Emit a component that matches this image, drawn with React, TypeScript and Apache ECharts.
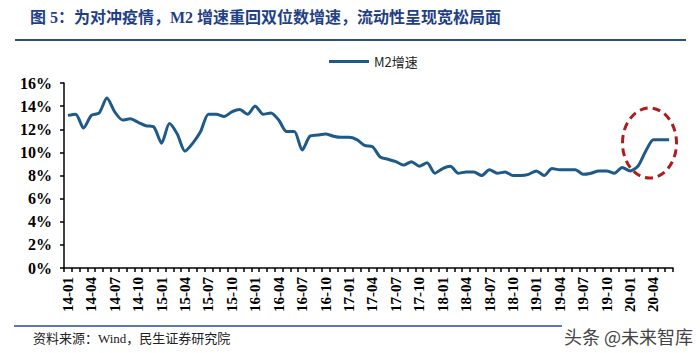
import React, { useEffect, useRef } from "react";
import * as echarts from "echarts";

const categories: string[] = [];
const years = ["14", "15", "16", "17", "18", "19", "20"];
for (const y of years) {
  for (let m = 1; m <= 12; m++) {
    if (y === "20" && m > 6) break;
    categories.push(`${y}-${m < 10 ? "0" + m : m}`);
  }
}

const m2_2014 = [13.2, 13.3, 12.1, 13.2, 13.4, 14.7, 13.5, 12.8, 12.9, 12.6, 12.3, 12.2];
const m2_2015 = [10.8, 12.5, 11.6, 10.1, 10.8, 11.8, 13.3, 13.3, 13.1, 13.5, 13.7, 13.3];
const m2_2016 = [14.0, 13.3, 13.4, 12.8, 11.8, 11.8, 10.2, 11.4, 11.5, 11.6, 11.4, 11.3];
const m2_2017 = [11.3, 11.1, 10.6, 10.5, 9.6, 9.4, 9.2, 8.9, 9.2, 8.8, 9.1, 8.2];
const m2_2018 = [8.6, 8.8, 8.2, 8.3, 8.3, 8.0, 8.5, 8.2, 8.3, 8.0, 8.0, 8.1];
const m2_2019 = [8.4, 8.0, 8.6, 8.5, 8.5, 8.5, 8.1, 8.2, 8.4, 8.4, 8.2, 8.7];
const m2_2020 = [8.4, 8.8, 10.1, 11.1, 11.1, 11.1];

const m2Growth = [...m2_2014, ...m2_2015, ...m2_2016, ...m2_2017, ...m2_2018, ...m2_2019, ...m2_2020];

const titleText = "图 5：为对冲疫情，M2 增速重回双位数增速，流动性呈现宽松局面";
const sourceText = "资料来源：Wind，民生证券研究院";
const seriesName = "M2增速";

export default function App() {
  const ref = useRef<HTMLDivElement>(null);
  useEffect(() => {
    if (!ref.current) return;
    const chart = echarts.init(ref.current, null, { renderer: "svg" });
    const serif = "Liberation Serif, Noto Sans CJK SC, serif";
    chart.setOption({
      animation: false,
      backgroundColor: "#ffffff",
      legend: {
        left: 324,
        top: 50,
        itemWidth: 40,
        itemHeight: 3,
        itemGap: 4,
        icon: "rect",
        data: [seriesName],
        textStyle: { fontSize: 13, color: "#222", fontFamily: "Noto Sans CJK SC, sans-serif" },
      },
      grid: { left: 64, right: 27, top: 83, bottom: 85, containLabel: false },
      xAxis: {
        type: "category",
        data: categories,
        boundaryGap: true,
        axisLine: { lineStyle: { color: "#000", width: 1.5 } },
        axisTick: { show: true, interval: 0, length: 4, lineStyle: { color: "#000", width: 1.5 } },
        axisLabel: {
          interval: 2,
          rotate: 90,
          margin: 9,
          fontSize: 15,
          fontWeight: "bold",
          color: "#000",
          fontFamily: serif,
        },
        splitLine: { show: false },
      },
      yAxis: {
        type: "value",
        min: 0,
        max: 16,
        interval: 2,
        axisLine: { show: true, lineStyle: { color: "#000", width: 1.5 } },
        axisTick: { show: true, length: 4, lineStyle: { color: "#000", width: 1.5 } },
        axisLabel: {
          formatter: "{value}%",
          fontSize: 16,
          fontWeight: "bold",
          color: "#000",
          margin: 12,
          fontFamily: serif,
        },
        splitLine: { show: false },
      },
      series: [
        {
          name: seriesName,
          type: "line",
          data: m2Growth,
          smooth: 0.25,
          symbol: "none",
          lineStyle: { color: "#1d5a8a", width: 3 },
          itemStyle: { color: "#1d5a8a" },
        },
      ],
      graphic: [
        {
          type: "text",
          left: 30,
          top: 9,
          style: {
            text: titleText,
            fontSize: 16,
            fontWeight: "bold",
            fill: "#1f3f86",
            fontFamily: serif,
          },
        },
        {
          type: "line",
          shape: { x1: 15, y1: 40, x2: 686, y2: 40 },
          style: { stroke: "#2a4d8c", lineWidth: 2 },
        },
        {
          type: "line",
          shape: { x1: 14, y1: 326, x2: 562, y2: 326 },
          style: { stroke: "#2a4d8c", lineWidth: 1.5 },
        },
        {
          type: "text",
          left: 33,
          top: 332,
          style: {
            text: sourceText,
            fontSize: 13,
            fill: "#222",
            fontFamily: serif,
          },
        },
        {
          type: "ellipse",
          shape: { cx: 649.5, cy: 143, rx: 27, ry: 35 },
          style: { fill: "none", stroke: "#b01c1c", lineWidth: 3, lineDash: [8, 5] },
        },
        {
          type: "text",
          left: 564,
          top: 327,
          style: {
            text: "头条 @未来智库",
            fontSize: 18,
            fill: "#444",
            fontFamily: "Noto Sans CJK SC, sans-serif",
          },
        },
      ],
    });
    return () => chart.dispose();
  }, []);
  return (
    <div
      ref={ref}
      style={{ position: "fixed", left: 0, top: 0, width: 700, height: 353 }}
    />
  );
}
